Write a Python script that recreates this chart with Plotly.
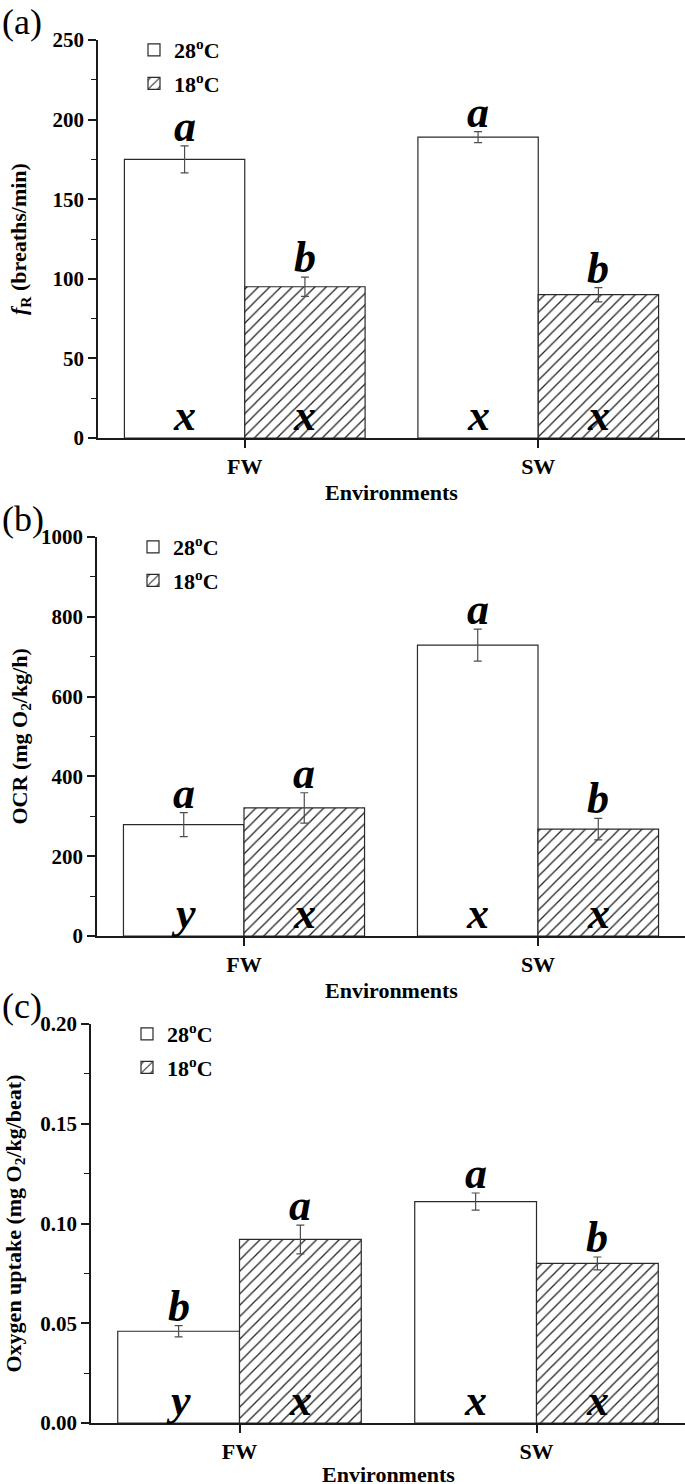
import plotly.graph_objects as go

# ---------------- data ----------------
environments = ["FW", "SW"]
series_names = ["28<sup>o</sup>C", "18<sup>o</sup>C"]

fr_28 = [175, 189]
fr_28_err = [8.5, 3.5]
fr_18 = [95, 90]
fr_18_err = [6, 4.5]
fr_28_top = ["a", "a"]
fr_18_top = ["b", "b"]
fr_28_bot = ["x", "x"]
fr_18_bot = ["x", "x"]

ocr_28 = [279, 729]
ocr_28_err = [30, 40]
ocr_18 = [321, 268]
ocr_18_err = [38, 27]
ocr_28_top = ["a", "a"]
ocr_18_top = ["a", "b"]
ocr_28_bot = ["y", "x"]
ocr_18_bot = ["x", "x"]

ou_28 = [0.046, 0.111]
ou_28_err = [0.0028, 0.0043]
ou_18 = [0.092, 0.080]
ou_18_err = [0.0072, 0.0032]
ou_28_top = ["b", "a"]
ou_18_top = ["a", "b"]
ou_28_bot = ["y", "x"]
ou_18_bot = ["x", "x"]

y_titles = ["<i>f</i><sub>R</sub> (breaths/min)",
            "OCR (mg O<sub>2</sub>/kg/h)",
            "Oxygen uptake (mg O<sub>2</sub>/kg/beat)"]
y_ranges = [[0, 250], [0, 1000], [0, 0.20]]
y_dticks = [50, 200, 0.05]
y_formats = ["d", "d", ".2f"]
panel_labels = ["(a)", "(b)", "(c)"]

# ---------------- layout geometry ----------------
W, H = 685, 1484
# pixel positions (top, bottom, left) of each plot area
panel_px = [(40, 438, 98), (537, 936, 97), (1024, 1423, 91)]
title_x_px = [20, 20, 14]
xtitle_gap_px = [55, 55, 51]
BARGAP = 0.18
HALF = (1 - BARGAP) / 2  # width of one bar in category units

SERIF = "Liberation Serif"
LINE = "#1a1a1a"
BAR_LINE = "#2a2a2a"
ERR = "#4d4d4d"

fig = go.Figure()

panels = [
    (fr_28, fr_28_err, fr_18, fr_18_err, fr_28_top, fr_18_top, fr_28_bot, fr_18_bot),
    (ocr_28, ocr_28_err, ocr_18, ocr_18_err, ocr_28_top, ocr_18_top, ocr_28_bot, ocr_18_bot),
    (ou_28, ou_28_err, ou_18, ou_18_err, ou_28_top, ou_18_top, ou_28_bot, ou_18_bot),
]

annotations = []
for i, (v28, e28, v18, e18, t28, t18, b28, b18) in enumerate(panels):
    ax = "" if i == 0 else str(i + 1)
    leg = "legend" if i == 0 else f"legend{i + 1}"
    fig.add_trace(go.Bar(
        x=environments, y=v28, name=series_names[0],
        xaxis="x" + ax, yaxis="y" + ax, legend=leg,
        marker=dict(color="white", line=dict(color=BAR_LINE, width=1.2)),
        error_y=dict(type="data", array=e28, color=ERR, thickness=1.2, width=4),
        legendgroup=f"g28_{i}", hoverinfo="skip",
    ))
    fig.add_trace(go.Bar(
        x=environments, y=v18, name=series_names[1],
        xaxis="x" + ax, yaxis="y" + ax, legend=leg,
        marker=dict(color="white", line=dict(color=BAR_LINE, width=1.2),
                    pattern=dict(shape="/", fgcolor="#222222", bgcolor="white",
                                 size=8, solidity=0.16)),
        error_y=dict(type="data", array=e18, color=ERR, thickness=1.2, width=4),
        legendgroup=f"g18_{i}", hoverinfo="skip",
    ))

    top, bot, left = panel_px[i]
    y0 = 1 - bot / H
    y1 = 1 - top / H
    x0 = left / W
    fig.update_layout({
        "xaxis" + ax: dict(
            domain=[x0, 1.0], anchor="y" + ax, type="category",
            range=[-0.5, 1.5], showline=True, linecolor=LINE, linewidth=1.5,
            ticks="outside", ticklen=8, tickwidth=1.5, tickcolor=LINE,
            tickfont=dict(family=SERIF, size=22, color="black", weight="bold"),
            showgrid=False, zeroline=False, fixedrange=True, automargin=False,
        ),
        "yaxis" + ax: dict(
            domain=[y0, y1], anchor="x" + ax, range=y_ranges[i],
            dtick=y_dticks[i], tickformat=y_formats[i],
            showline=True, linecolor=LINE, linewidth=1.5,
            ticks="outside", ticklen=8, tickwidth=1.5, tickcolor=LINE,
            minor=dict(ticks="outside", ticklen=5, tickwidth=1.2,
                       tickcolor=LINE, dtick=y_dticks[i] / 2),
            tickfont=dict(family=SERIF, size=21, color="black", weight="bold"),
            showgrid=False, zeroline=False, fixedrange=True, automargin=False,
        ),
        leg: dict(
            x=(left + 36) / W, y=1 - (top - 11) / H, xanchor="left", yanchor="top",
            font=dict(family=SERIF, size=22, color="black", weight="bold"),
            bgcolor="rgba(0,0,0,0)", traceorder="grouped", tracegroupgap=2,
            itemwidth=30,
        ),
    })

    # significance letters
    for vals, errs, tops, bots, off in ((v28, e28, t28, b28, -HALF / 2),
                                        (v18, e18, t18, b18, HALF / 2)):
        for k in range(len(environments)):
            annotations.append(dict(
                x=k + off, y=vals[k] + errs[k], xref="x" + ax, yref="y" + ax,
                text=f"<i>{tops[k]}</i>", showarrow=False, yanchor="bottom",
                yshift=-7, font=dict(family=SERIF, size=44, color="black", weight="bold"),
            ))
            annotations.append(dict(
                x=k + off, y=0, xref="x" + ax, yref="y" + ax,
                text=f"<i>{bots[k]}</i>", showarrow=False, yanchor="bottom",
                yshift=-4, font=dict(family=SERIF, size=44, color="black", weight="bold"),
            ))

    # y-axis title
    annotations.append(dict(
        x=title_x_px[i] / W, y=(y0 + y1) / 2, xref="paper", yref="paper",
        text=y_titles[i], textangle=-90, showarrow=False,
        xanchor="center", yanchor="middle",
        font=dict(family=SERIF, size=22, color="black", weight="bold"),
    ))
    # x-axis title
    annotations.append(dict(
        x=(x0 + 1.0) / 2, y=1 - (bot + xtitle_gap_px[i]) / H, xref="paper", yref="paper",
        text="Environments", showarrow=False, xanchor="center", yanchor="middle",
        font=dict(family=SERIF, size=22, color="black", weight="bold"),
    ))
    # panel label
    annotations.append(dict(
        x=0, y=1 - (top - 40) / H, xref="paper", yref="paper",
        text=panel_labels[i], showarrow=False, xanchor="left", yanchor="top",
        font=dict(family=SERIF, size=36, color="black"),
    ))

fig.update_layout(
    template="none",
    width=W, height=H,
    margin=dict(l=0, r=0, t=0, b=0, pad=0, autoexpand=False),
    barmode="group", bargap=BARGAP, bargroupgap=0,
    plot_bgcolor="white", paper_bgcolor="white",
    annotations=annotations,
    showlegend=True,
    hovermode=False,
)

fig.write_html(
    "out.html",
    config={"displayModeBar": False, "staticPlot": False},
    post_script="document.body.style.margin='0';document.body.style.overflow='hidden';",
)
